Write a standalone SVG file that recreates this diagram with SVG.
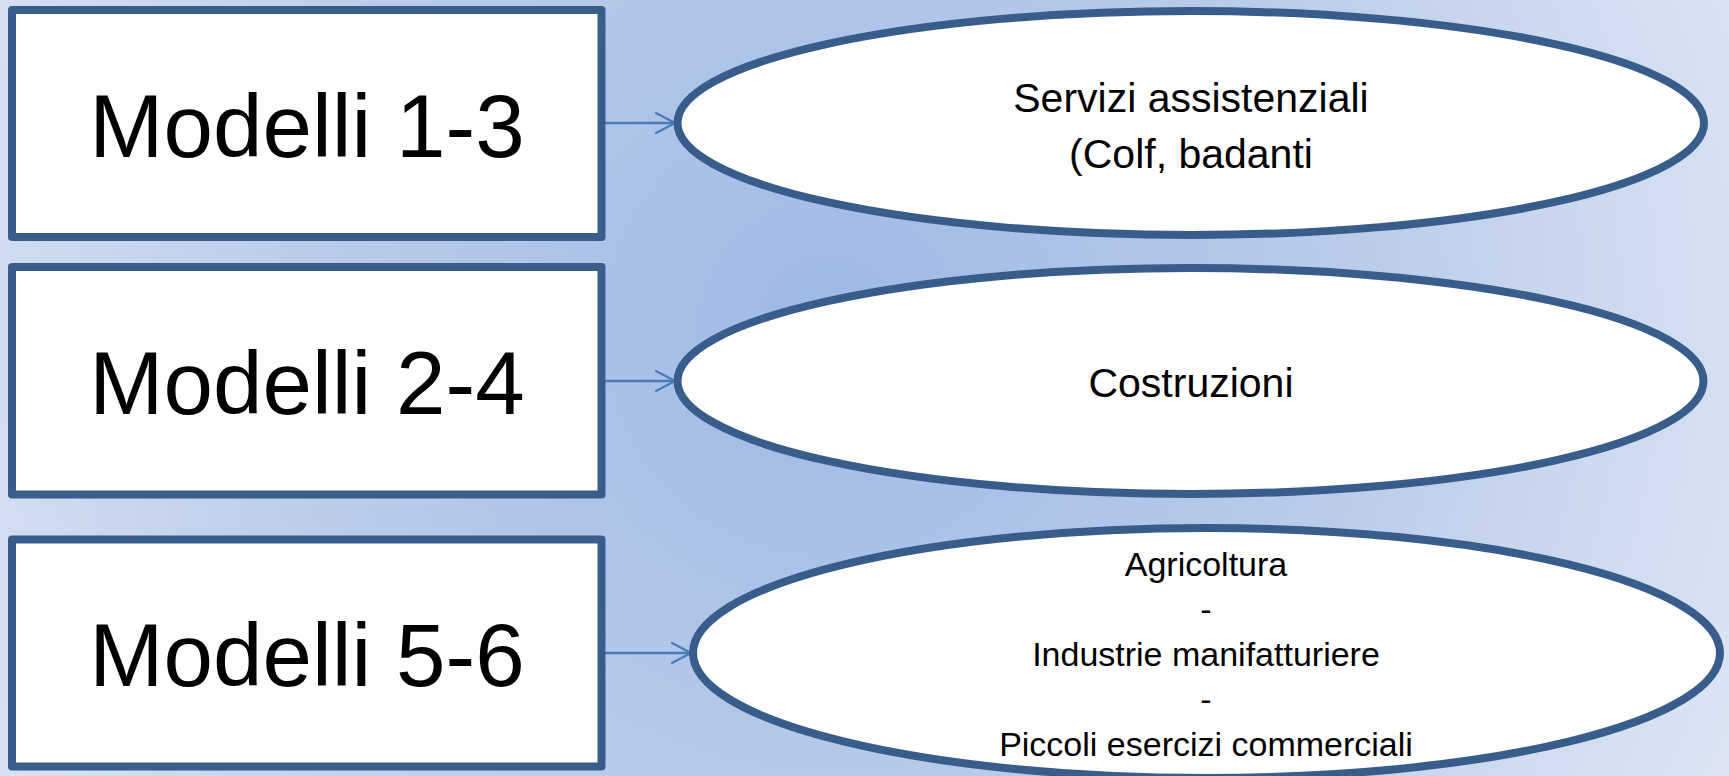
<svg xmlns="http://www.w3.org/2000/svg" width="1729" height="776" viewBox="0 0 1729 776">
  <defs>
    <radialGradient id="bg" gradientUnits="userSpaceOnUse" cx="830" cy="330" r="1000">
      <stop offset="0" stop-color="#9fb9e5"/>
      <stop offset="0.55" stop-color="#bccdeb"/>
      <stop offset="1" stop-color="#dde5f4"/>
    </radialGradient>
    <marker id="arrow" markerUnits="userSpaceOnUse" viewBox="0 0 22 24" refX="20" refY="12" markerWidth="22" markerHeight="24" orient="auto">
      <path d="M1,2 L20,12 L1,22" fill="none" stroke="#4a7ebb" stroke-width="2.5" stroke-linecap="round"/>
    </marker>
    <style>
      .box { fill: #ffffff; stroke: #385d8a; stroke-width: 8; stroke-linejoin: round; }
      .oval { fill: #ffffff; stroke: #385d8a; stroke-width: 8; }
      .big { font-family: "Liberation Sans", Arial, sans-serif; font-size: 89px; fill: #000000; text-anchor: middle; }
      .mid { font-family: "Liberation Sans", Arial, sans-serif; font-size: 41px; fill: #000000; text-anchor: middle; }
      .small { font-family: "Liberation Sans", Arial, sans-serif; font-size: 34px; fill: #000000; text-anchor: middle; }
      .conn { stroke: #4a7ebb; stroke-width: 2.5; fill: none; }
    </style>
  </defs>
  <rect x="0" y="0" width="1729" height="776" fill="url(#bg)"/>

  <g id="connectors">
    <line class="conn" x1="602" y1="123" x2="675" y2="123" marker-end="url(#arrow)"/>
    <line class="conn" x1="602" y1="381" x2="675" y2="381" marker-end="url(#arrow)"/>
    <line class="conn" x1="602" y1="653" x2="691" y2="653" marker-end="url(#arrow)"/>
  </g>

  <g id="box1">
    <rect class="box" x="12" y="10" width="589.5" height="227"/>
    <text class="big" x="307" y="157">Modelli 1-3</text>
  </g>
  <g id="box2">
    <rect class="box" x="12" y="267" width="589.5" height="227.5"/>
    <text class="big" x="307" y="414">Modelli 2-4</text>
  </g>
  <g id="box3">
    <rect class="box" x="12" y="539.5" width="589.5" height="227"/>
    <text class="big" x="307" y="686">Modelli 5-6</text>
  </g>

  <g id="oval1">
    <ellipse class="oval" cx="1190.75" cy="123" rx="513.25" ry="112"/>
    <text class="mid" x="1191" y="112">Servizi assistenziali</text>
    <text class="mid" x="1191" y="168">(Colf, badanti</text>
  </g>
  <g id="oval2">
    <ellipse class="oval" cx="1190.5" cy="381" rx="513" ry="113"/>
    <text class="mid" x="1191" y="397">Costruzioni</text>
  </g>
  <g id="oval3">
    <ellipse class="oval" cx="1206.5" cy="653" rx="513.5" ry="125"/>
    <text class="small" x="1206" y="576">Agricoltura</text>
    <text class="small" x="1206" y="621">-</text>
    <text class="small" x="1206" y="666">Industrie manifatturiere</text>
    <text class="small" x="1206" y="711">-</text>
    <text class="small" x="1206" y="756">Piccoli esercizi commerciali</text>
  </g>
</svg>
